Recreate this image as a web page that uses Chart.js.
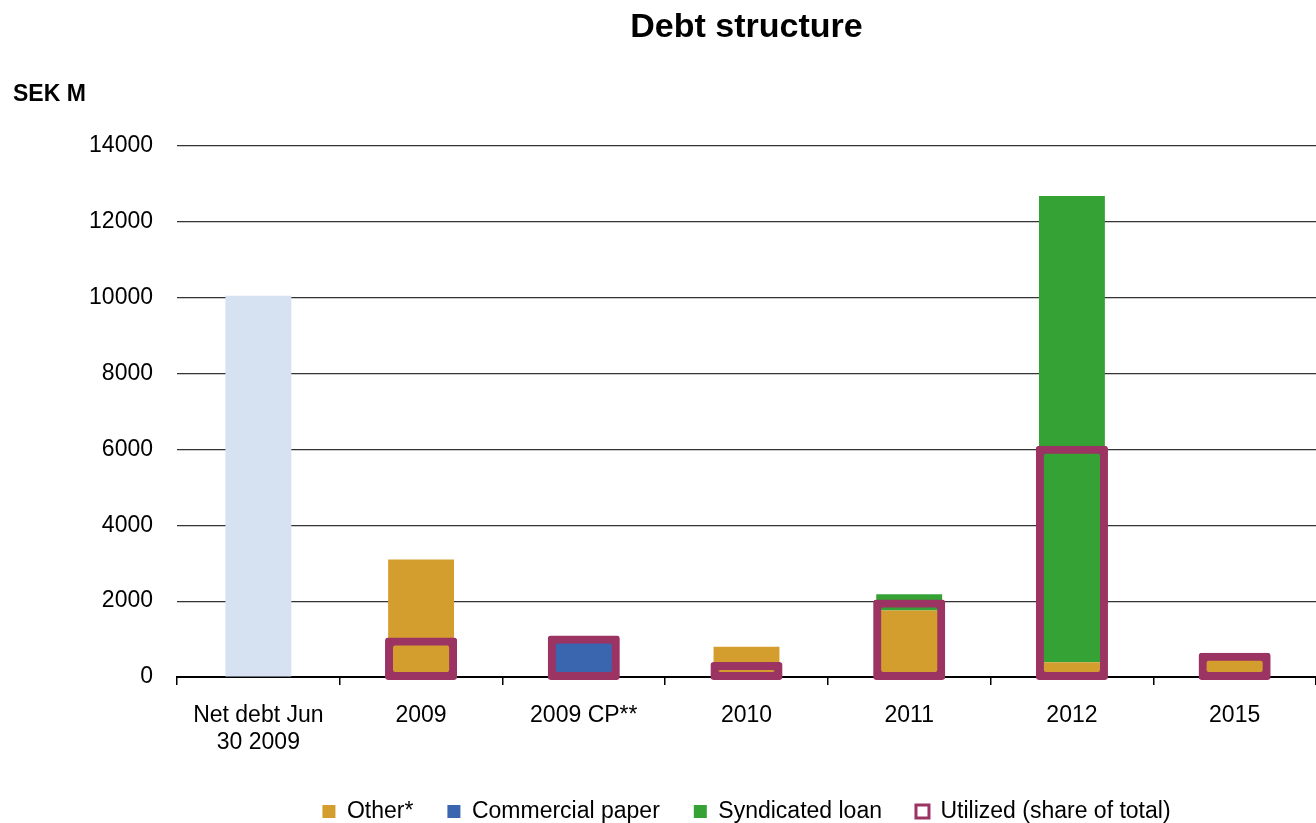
<!DOCTYPE html>
<html>
<head>
<meta charset="utf-8">
<title>Debt structure</title>
<script src="https://cdn.jsdelivr.net/npm/chart.js@4.4.1/dist/chart.umd.min.js"></script>
<style>
  html, body { margin: 0; padding: 0; background: #fff; }
  #wrap { width: 1316px; height: 823px; position: relative; }
</style>
</head>
<body>
<div id="wrap"><canvas id="debtChart"></canvas></div>
<script>
// categories and values (SEK M)
const categories = [['Net debt Jun', '30 2009'], '2009', '2009 CP**', '2010', '2011', '2012', '2015'];
const netDebt    = [10050, null, null, null, null, null, null];
const other      = [null, 3100, null, 800, 1750, 390, 500];
const commPaper  = [null, null, 1000, null, null, null, null];
const syndicated = [null, null, null, null, 430, 12290, null];
const utilized   = [null, 950, 1000, 300, 1950, 6000, 550];
const yTicks     = [0, 2000, 4000, 6000, 8000, 10000, 12000, 14000];

const FONT = "'Liberation Sans', Arial, sans-serif";
const C_OTHER = '#D49E2F', C_CP = '#3A66B0', C_SYND = '#34A234', C_UTIL = '#9B3363', C_NET = '#D6E1F1';

// "SEK M" unit label top-left
const unitLabel = {
  id: 'unitLabel',
  afterDraw(chart) {
    const ctx = chart.ctx;
    ctx.save();
    ctx.font = 'bold 23px ' + FONT;
    ctx.fillStyle = '#000';
    ctx.textBaseline = 'alphabetic';
    ctx.fillText('SEK M', 13, 101);
    ctx.restore();
  }
};

const barBase = { stack: 'a', categoryPercentage: 1, barPercentage: 0.405, borderWidth: 0 };

new Chart(document.getElementById('debtChart'), {
  type: 'bar',
  data: {
    labels: categories,
    datasets: [
      { ...barBase, label: 'Net debt', data: netDebt, backgroundColor: C_NET },
      { ...barBase, label: 'Other*', data: other, backgroundColor: C_OTHER },
      { ...barBase, label: 'Commercial paper', data: commPaper, backgroundColor: C_CP },
      { ...barBase, label: 'Syndicated loan', data: syndicated, backgroundColor: C_SYND },
      {
        label: 'Utilized (share of total)', data: utilized, stack: 'u', grouped: false, order: -1,
        categoryPercentage: 1, barPercentage: 0.40,
        backgroundColor: 'rgba(0,0,0,0)', borderColor: C_UTIL,
        borderWidth: 1, inflateAmount: 3.5, borderSkipped: false, borderRadius: 3, clip: false
      }
    ]
  },
  options: {
    responsive: true,
    maintainAspectRatio: false,
    animation: false,
    layout: { padding: { left: 0, right: 0, top: 0, bottom: -10 } },
    plugins: {
      title: {
        display: true, text: 'Debt structure', fullSize: false, color: '#000',
        font: { family: FONT, size: 34, weight: 'bold' },
        padding: { top: 7, bottom: 98 }
      },
      legend: {
        position: 'bottom', fullSize: false,
        labels: {
          color: '#000', font: { family: FONT, size: 23 },
          boxWidth: 13, boxHeight: 13, padding: 34,
          generateLabels: chart => chart.data.datasets.map((ds, i) => ({
            text: ds.label,
            datasetIndex: i,
            fillStyle: ds.stack === 'u' ? '#fff' : ds.backgroundColor,
            strokeStyle: ds.stack === 'u' ? C_UTIL : ds.backgroundColor,
            lineWidth: ds.stack === 'u' ? 3 : 0,
            fontColor: '#000',
            hidden: false
          })).filter(l => l.text !== 'Net debt')
        }
      },
      tooltip: { enabled: false }
    },
    scales: {
      x: {
        stacked: true,
        grid: { display: true, drawOnChartArea: false, drawTicks: true, tickLength: 8, color: '#000', lineWidth: 1.5 },
        border: { display: true, color: '#000', width: 2 },
        ticks: { color: '#000', font: { family: FONT, size: 23, lineHeight: 1.17 }, padding: 17, maxRotation: 0, autoSkip: false },
        afterFit: s => { s.height = 89; }
      },
      y: {
        stacked: true,
        min: 0, max: 14000,
        afterBuildTicks: s => { s.ticks = yTicks.map(v => ({ value: v })); },
        grid: { color: '#333', lineWidth: 1.2, tickLength: 0, drawTicks: false },
        border: { display: false },
        ticks: { color: '#000', font: { family: FONT, size: 23 }, padding: 24, callback: v => String(v) },
        afterFit: s => { s.width = 177; }
      }
    }
  },
  plugins: [unitLabel]
});
</script>
</body>
</html>
